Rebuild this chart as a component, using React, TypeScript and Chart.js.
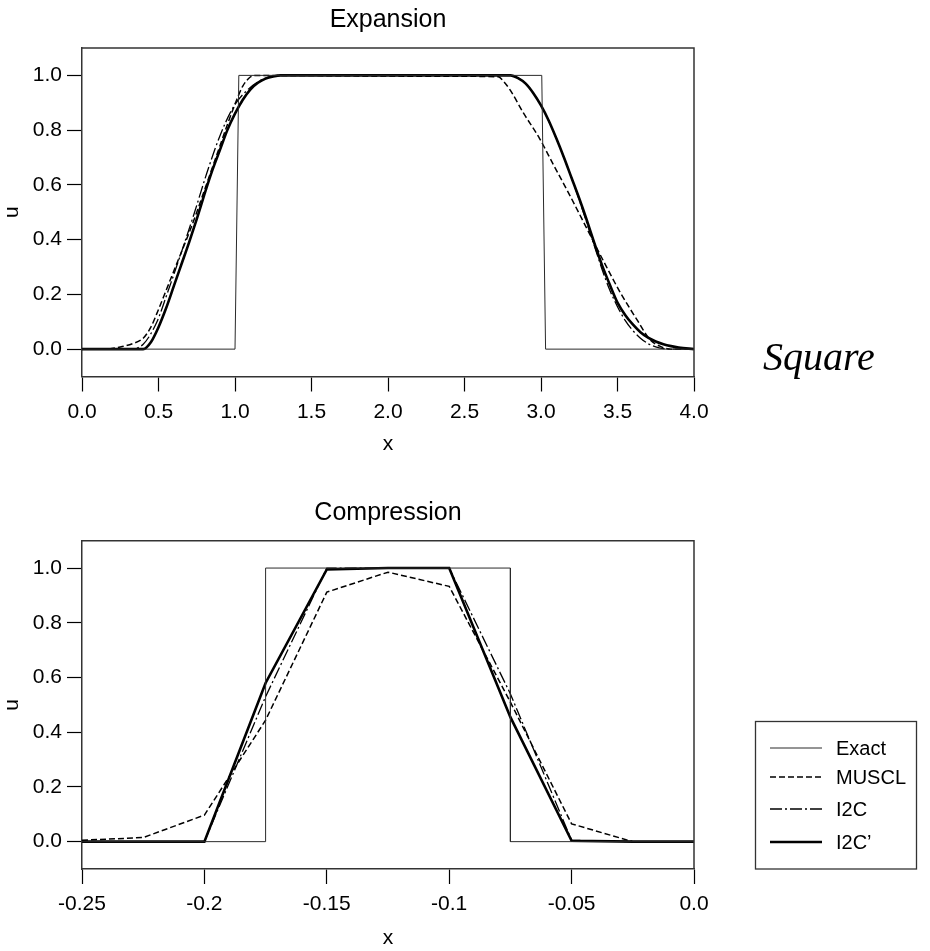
import React, { useEffect, useRef } from "react";
import { Chart, registerables } from "chart.js";

Chart.register(...registerables);

const FONT = '"Liberation Sans", Arial, Helvetica, sans-serif';

// ---------- Expansion (top panel) ----------
const expXTicks = [0, 0.5, 1, 1.5, 2, 2.5, 3, 3.5, 4];
const expXLabels = ["0.0", "0.5", "1.0", "1.5", "2.0", "2.5", "3.0", "3.5", "4.0"];

const expExactX = [0, 1.0, 1.025, 3.005, 3.03, 4.0];
const expExactU = [0, 0, 1, 1, 0, 0];

const expMusclX = [0, 0.15, 0.25, 0.33, 0.4, 0.45, 0.5, 0.55, 0.6, 0.65, 0.7, 0.75, 0.8, 0.85, 0.9, 0.95, 1.0, 1.05, 1.1, 1.13, 2.3, 2.72, 2.76, 2.8, 2.886, 2.99, 3.08, 3.19, 3.3, 3.41, 3.52, 3.63, 3.71, 3.78, 3.85, 4.0];
const expMusclU = [0, 0, 0.008, 0.02, 0.04, 0.08, 0.145, 0.215, 0.285, 0.355, 0.425, 0.5, 0.58, 0.66, 0.74, 0.82, 0.895, 0.96, 0.994, 1.0, 0.997, 0.995, 0.975, 0.945, 0.862, 0.77, 0.675, 0.56, 0.44, 0.32, 0.205, 0.105, 0.036, 0.01, 0, 0];

const expI2cX = [0, 0.3, 0.4, 0.49, 0.555, 0.643, 0.73, 0.817, 0.9, 0.99, 1.08, 1.19, 1.3, 2.0, 2.8, 2.85, 2.9, 2.95, 3.0, 3.05, 3.1, 3.15, 3.2, 3.25, 3.3, 3.35, 3.4, 3.45, 3.5, 3.55, 3.6, 3.65, 3.7, 3.75, 3.8, 3.85, 4.0];
const expI2cU = [0, 0, 0.018, 0.1, 0.2, 0.343, 0.49, 0.645, 0.777, 0.885, 0.946, 0.988, 1.0, 1.0, 1.0, 0.99, 0.97, 0.935, 0.89, 0.835, 0.77, 0.7, 0.625, 0.545, 0.46, 0.375, 0.29, 0.215, 0.155, 0.105, 0.068, 0.04, 0.02, 0.008, 0.002, 0, 0];

const expI2cpX = [0, 0.3, 0.4, 0.45, 0.5, 0.55, 0.6, 0.65, 0.7, 0.75, 0.8, 0.85, 0.9, 0.95, 1.0, 1.05, 1.1, 1.15, 1.2, 1.25, 1.3, 2.0, 2.8, 2.85, 2.9, 2.95, 3.0, 3.05, 3.1, 3.15, 3.2, 3.25, 3.3, 3.35, 3.4, 3.45, 3.5, 3.55, 3.6, 3.65, 3.7, 3.75, 3.8, 3.85, 3.9, 4.0];
const expI2cpU = [0, 0, 0.0, 0.025, 0.08, 0.15, 0.23, 0.31, 0.39, 0.475, 0.565, 0.65, 0.725, 0.8, 0.86, 0.91, 0.948, 0.973, 0.988, 0.996, 1.0, 1.0, 1.0, 0.99, 0.97, 0.935, 0.89, 0.835, 0.77, 0.7, 0.625, 0.55, 0.47, 0.385, 0.305, 0.235, 0.17, 0.125, 0.09, 0.062, 0.042, 0.028, 0.018, 0.011, 0.006, 0.0];

// ---------- Compression (bottom panel) ----------
const cmpXTicks = [-0.25, -0.2, -0.15, -0.1, -0.05, 0];
const cmpXLabels = ["-0.25", "-0.2", "-0.15", "-0.1", "-0.05", "0.0"];

const cmpExactX = [-0.25, -0.175, -0.175, -0.075, -0.075, 0];
const cmpExactU = [0, 0, 1, 1, 0, 0];

const cmpX = [-0.25, -0.225, -0.2, -0.175, -0.15, -0.125, -0.1, -0.075, -0.05, -0.025, 0];
const cmpMusclU = [0.005, 0.015, 0.097, 0.444, 0.912, 0.985, 0.933, 0.51, 0.065, 0.0, 0.0];
const cmpI2cU = [0, 0, 0, 0.53, 1.0, 1.0, 1.0, 0.54, 0.005, 0, 0];
const cmpI2cpU = [0, 0, 0, 0.58, 0.995, 1.0, 1.0, 0.455, 0.003, 0, 0];

// ---------- shared ----------
const yTicks = [0, 0.2, 0.4, 0.6, 0.8, 1.0];
const yLabels = ["0.0", "0.2", "0.4", "0.6", "0.8", "1.0"];
const seriesNames = ["Exact", "MUSCL", "I2C", "I2C\u2019"];

function pts(xs: number[], ys: number[]) {
  return xs.map((x, i) => ({ x, y: ys[i] }));
}

function makeDatasets(
  exact: { x: number; y: number }[],
  muscl: { x: number; y: number }[],
  i2c: { x: number; y: number }[],
  i2cp: { x: number; y: number }[],
  smooth: boolean
) {
  const mode = smooth ? "monotone" : "default";
  return [
    { label: seriesNames[0], data: exact, borderColor: "#2a2a2a", borderWidth: 1, borderDash: [], pointRadius: 0, tension: 0 },
    { label: seriesNames[1], data: muscl, borderColor: "#000", borderWidth: 1.5, borderDash: [6, 3], pointRadius: 0, tension: 0, cubicInterpolationMode: mode },
    { label: seriesNames[2], data: i2c, borderColor: "#000", borderWidth: 1.3, borderDash: [12, 3, 2, 3], pointRadius: 0, tension: 0, cubicInterpolationMode: mode },
    { label: seriesNames[3], data: i2cp, borderColor: "#000", borderWidth: 2.6, borderDash: [], pointRadius: 0, tension: 0, cubicInterpolationMode: mode },
  ];
}

const panelPlugin = {
  id: "panelText",
  afterDraw(chart: any, _args: any, opts: any) {
    const { ctx, chartArea } = chart;
    ctx.save();
    // top and right frame
    ctx.strokeStyle = "#333";
    ctx.lineWidth = 1.5;
    ctx.setLineDash([]);
    ctx.beginPath();
    ctx.moveTo(chartArea.left, chartArea.top);
    ctx.lineTo(chartArea.right, chartArea.top);
    ctx.lineTo(chartArea.right, chartArea.bottom);
    ctx.stroke();
    // panel title
    ctx.fillStyle = "#000";
    ctx.font = `25px ${FONT}`;
    ctx.textAlign = "center";
    ctx.textBaseline = "alphabetic";
    ctx.fillText(opts.title, (chartArea.left + chartArea.right) / 2, opts.titleBaseline);
    // legend box
    if (opts.legend) {
      const L = opts.legend;
      ctx.strokeStyle = "#333";
      ctx.lineWidth = 1.3;
      ctx.strokeRect(L.left, L.top, L.width, L.height);
      ctx.font = `20px ${FONT}`;
      ctx.textAlign = "left";
      ctx.textBaseline = "middle";
      chart.data.datasets.forEach((ds: any, i: number) => {
        const y = L.rows[i];
        ctx.strokeStyle = ds.borderColor;
        ctx.lineWidth = ds.borderWidth;
        ctx.setLineDash(ds.borderDash || []);
        ctx.beginPath();
        ctx.moveTo(L.lineX0, y);
        ctx.lineTo(L.lineX1, y);
        ctx.stroke();
        ctx.setLineDash([]);
        ctx.fillStyle = "#000";
        ctx.fillText(ds.label, L.textX, y + 1);
      });
    }
    ctx.restore();
  },
};

function makeConfig(
  datasets: any[],
  xMin: number,
  xMax: number,
  xTicks: number[],
  xLabels: string[],
  padTop: number,
  padBottom: number,
  xHeight: number,
  panelOpts: any
) {
  return {
    type: "line",
    data: { datasets },
    plugins: [panelPlugin],
    options: {
      animation: false,
      responsive: false,
      devicePixelRatio: 1,
      events: [],
      layout: { padding: { left: 0, right: 236, top: padTop, bottom: padBottom } },
      plugins: {
        legend: { display: false },
        tooltip: { enabled: false },
        title: { display: false },
        panelText: panelOpts,
      },
      scales: {
        x: {
          type: "linear",
          min: xMin,
          max: xMax,
          afterBuildTicks: (s: any) => {
            s.ticks = xTicks.map((v) => ({ value: v }));
          },
          afterFit: (s: any) => {
            s.height = xHeight;
          },
          ticks: {
            callback: (_v: any, i: number) => xLabels[i],
            color: "#000",
            font: { family: FONT, size: 21 },
            padding: 8,
            autoSkip: false,
            maxRotation: 0,
            minRotation: 0,
          },
          grid: { drawOnChartArea: false, drawTicks: true, tickLength: 15, tickColor: "#000", tickWidth: 1.2 },
          border: { display: true, color: "#333", width: 1.5 },
          title: { display: true, text: "x", color: "#000", font: { family: FONT, size: 21 }, padding: 0 },
        },
        y: {
          type: "linear",
          min: -0.1,
          max: 1.1,
          afterBuildTicks: (s: any) => {
            s.ticks = yTicks.map((v) => ({ value: v }));
          },
          afterFit: (s: any) => {
            s.width = 82;
          },
          ticks: {
            callback: (_v: any, i: number) => yLabels[i],
            color: "#000",
            font: { family: FONT, size: 21 },
            padding: 5,
            autoSkip: false,
          },
          grid: { drawOnChartArea: false, drawTicks: true, tickLength: 15, tickColor: "#000", tickWidth: 1.2 },
          border: { display: true, color: "#333", width: 1.5 },
          title: { display: true, text: "u", color: "#000", font: { family: FONT, size: 21 }, padding: 0 },
        },
      },
    },
  };
}

export default function App() {
  const topRef = useRef<HTMLCanvasElement | null>(null);
  const botRef = useRef<HTMLCanvasElement | null>(null);

  useEffect(() => {
    const topChart = new Chart(
      topRef.current as HTMLCanvasElement,
      makeConfig(
        makeDatasets(
          pts(expExactX, expExactU),
          pts(expMusclX, expMusclU),
          pts(expI2cX, expI2cU),
          pts(expI2cpX, expI2cpU),
          true
        ),
        0,
        4,
        expXTicks,
        expXLabels,
        48,
        13.5,
        80,
        { title: "Expansion", titleBaseline: 27 }
      ) as any
    );
    const botChart = new Chart(
      botRef.current as HTMLCanvasElement,
      makeConfig(
        makeDatasets(
          pts(cmpExactX, cmpExactU),
          pts(cmpX, cmpMusclU),
          pts(cmpX, cmpI2cU),
          pts(cmpX, cmpI2cpU),
          false
        ),
        -0.25,
        0,
        cmpXTicks,
        cmpXLabels,
        70.7,
        0,
        82,
        {
          title: "Compression",
          titleBaseline: 49.5,
          legend: {
            left: 755.5,
            top: 251.5,
            width: 161,
            height: 147.5,
            rows: [278, 307, 339, 372],
            lineX0: 770,
            lineX1: 822,
            textX: 836,
          },
        }
      ) as any
    );
    return () => {
      topChart.destroy();
      botChart.destroy();
    };
  }, []);

  return (
    <div style={{ position: "absolute", left: 0, top: 0, width: 930, height: 951, background: "#fff", overflow: "hidden" }}>
      <canvas ref={topRef} width={930} height={470} style={{ position: "absolute", left: 0, top: 0, width: 930, height: 470, display: "block" }} />
      <canvas ref={botRef} width={930} height={481} style={{ position: "absolute", left: 0, top: 470, width: 930, height: 481, display: "block" }} />
      <div
        style={{
          position: "absolute",
          left: 763,
          top: 337,
          fontFamily: '"Liberation Serif", "Times New Roman", Times, serif',
          fontStyle: "italic",
          fontSize: 40,
          lineHeight: "40px",
          color: "#000",
          whiteSpace: "nowrap",
        }}
      >
        Square
      </div>
    </div>
  );
}
